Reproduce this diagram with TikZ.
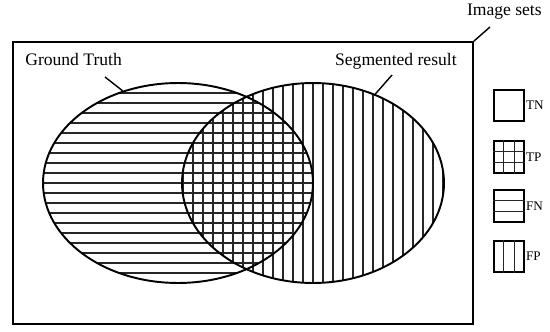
\documentclass[tikz,border=0pt]{standalone}
\usepackage{fontspec}
\setmainfont{Liberation Serif}
\usetikzlibrary{shapes.geometric,calc}

\begin{document}
\begin{tikzpicture}[
    x=0.02cm, y=-0.02cm,
    setshape/.style={ellipse, draw, line width=1.1pt, minimum height=4cm, inner sep=0pt},
    hatch/.style={line width=0.65pt, black!85},
    setname/.style={font=\fontsize{10}{12}\selectfont, inner sep=0pt},
    legendbox/.style={draw, line width=1pt, minimum width=0.6cm, minimum height=0.63cm, inner sep=0pt},
    legendtext/.style={font=\fontsize{7.5}{9}\selectfont, inner sep=0.5pt, anchor=west},
]
\useasboundingbox (0,0) rectangle (550,331);

% hatching of the two sets
\begin{scope}
    \clip (178,183) ellipse [x radius=135, y radius=100];
    \foreach \k in {-10,...,10}
        \draw[hatch] (40,{183+10*\k}) -- (320,{183+10*\k});
\end{scope}
\begin{scope}
    \clip (313,183) ellipse [x radius=131, y radius=100];
    \foreach \k in {-14,...,14}
        \draw[hatch] ({313+10*\k},80) -- ({313+10*\k},290);
\end{scope}

\node[draw, line width=1pt, inner sep=0pt, minimum width=9.2cm, minimum height=5.64cm] (frame) at (243,183) {};
\node[setshape, minimum width=5.4cm] (gt) at (178,183) {};
\node[setshape, minimum width=5.24cm] (seg) at (313,183) {};

% labels
\node[setname, anchor=base west] (gtlabel) at (25,66) {Ground Truth};
\node[setname, anchor=base east] (seglabel) at (457,66) {Segmented result};
\node[setname, anchor=base east] (imglabel) at (542,16) {Image sets};

\coordinate (gtlead) at (105,77);
\coordinate (seglead) at (392,75);
\coordinate (imglead) at (490,27);
\draw[line width=0.8pt] (gtlead) -- (gt.121);
\draw[line width=0.8pt] (seglead) -- (seg.55);
\draw[line width=0.8pt] (frame.north east) -- (imglead);

% legend
\node[legendbox] (tn) at (509,105.5) {};
\node[legendbox] (tp) at (509,157) {};
\node[legendbox] (fn) at (509,206) {};
\node[legendbox] (fp) at (509,256.5) {};

\foreach \t in {1,2} {
    \draw[hatch] ($(tp.north west)!\t/3!(tp.north east)$) -- ($(tp.south west)!\t/3!(tp.south east)$);
    \draw[hatch] ($(tp.north west)!\t/3!(tp.south west)$) -- ($(tp.north east)!\t/3!(tp.south east)$);
    \draw[hatch] ($(fn.north west)!\t/3!(fn.south west)$) -- ($(fn.north east)!\t/3!(fn.south east)$);
    \draw[hatch] ($(fp.north west)!\t/3!(fp.north east)$) -- ($(fp.south west)!\t/3!(fp.south east)$);
}

\node[legendtext] (tnlabel) at (tn.east) {TN};
\node[legendtext] (tplabel) at (tp.east) {TP};
\node[legendtext] (fnlabel) at (fn.east) {FN};
\node[legendtext] (fplabel) at (fp.east) {FP};

\end{tikzpicture}
\end{document}
